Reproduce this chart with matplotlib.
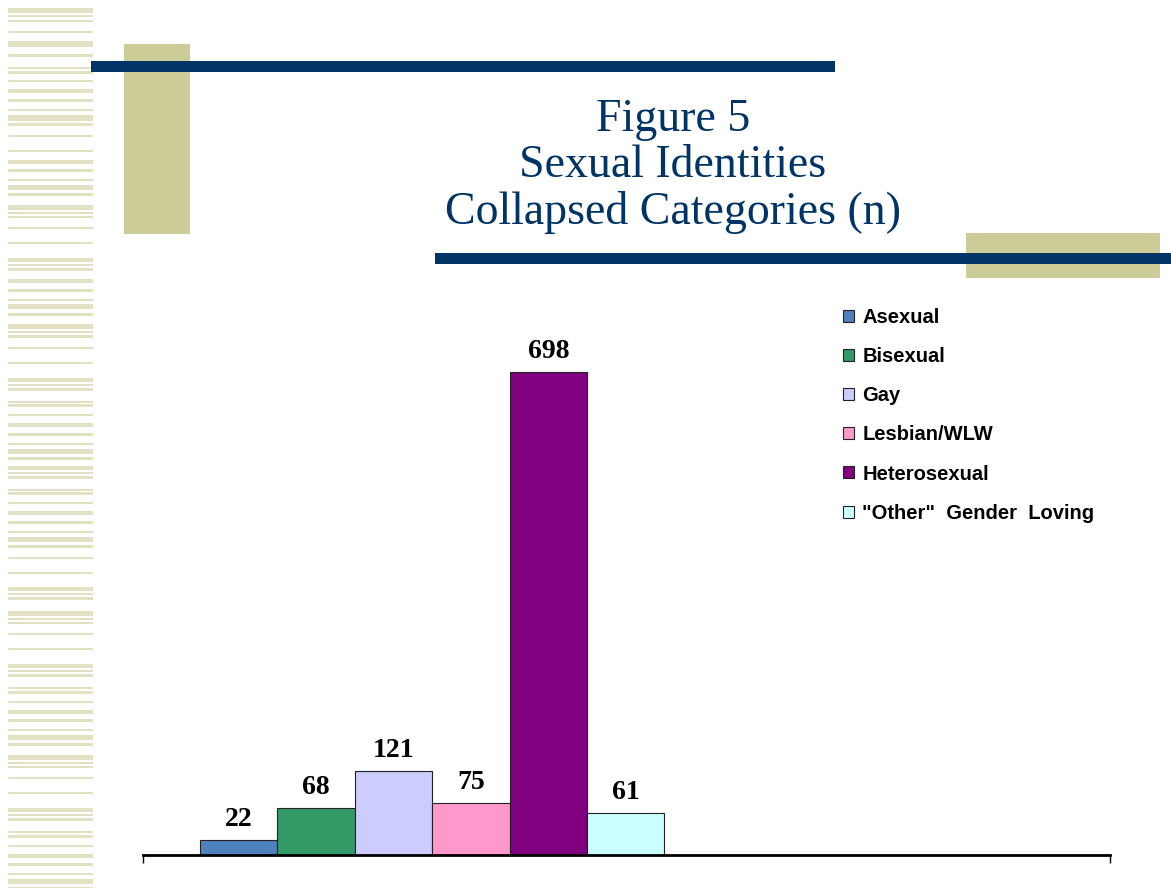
import numpy as np
import matplotlib
matplotlib.use("Agg")
import matplotlib.pyplot as plt
from matplotlib.patches import Rectangle

# data
categories = ["Asexual", "Bisexual", "Gay", "Lesbian/WLW", "Heterosexual", '"Other"  Gender  Loving']
counts = [22, 68, 121, 75, 698, 61]
colors = ["#4F81BD", "#339966", "#CCCCFF", "#FF99CC", "#800080", "#CCFFFF"]

title_lines = ["Figure 5", "Sexual Identities", "Collapsed Categories (n)"]

# decorative stripes on the left edge (top, bottom) in pixels
stripes = [(8, 13), (14.7, 16.7), (20, 22), (31, 33), (41, 47), (54, 57), (67, 69), (71, 74),
           (80, 82), (89, 93), (99, 102), (109, 111), (115, 121), (123, 126), (135, 137),
           (150, 152), (160, 164), (169, 172), (179, 181), (185, 190), (193, 196), (205, 210),
           (212, 214), (216, 218), (227, 229), (242, 244), (258, 262), (264, 266), (268, 271),
           (279, 283), (289, 292), (299, 301), (304, 309), (313, 316), (324, 329), (331, 333),
           (335, 338), (347, 349), (362, 364), (378, 382), (384, 386), (388, 391), (401, 403),
           (404, 407), (414, 416), (423, 427), (433, 436), (443, 445), (449, 454), (457, 460),
           (466, 470), (472, 474), (476, 479), (489, 491), (492, 495), (502, 504), (511, 515),
           (521, 524), (531, 533), (537, 542), (545, 548), (557, 559), (572, 574), (587, 591),
           (593, 595), (597, 600), (611, 616), (618, 620), (622, 624), (633, 635), (648, 650),
           (664, 668), (670, 672), (674, 677), (687, 689), (691, 694), (701, 703), (710, 714),
           (719, 722), (729, 731), (735, 740), (743, 746), (755, 760), (762, 764), (766, 768),
           (777, 779), (792, 794), (808, 812), (814, 816), (818, 821), (831, 833), (835, 838),
           (845, 847), (854, 858), (863, 866), (873, 875), (879, 884), (887, 889)]

W, H = 1171, 888
fig = plt.figure(figsize=(W / 100, H / 100), dpi=100)
fig.patch.set_facecolor("white")

# background layer in pixel coordinates
bg = fig.add_axes([0, 0, 1, 1])
bg.set_xlim(0, W)
bg.set_ylim(H, 0)
bg.axis("off")

for y0, y1 in stripes:
    bg.add_patch(Rectangle((8, y0), 85, y1 - y0, color="#E3E1C4", lw=0))

olive = "#CCCC99"
navy = "#003366"
bg.add_patch(Rectangle((124, 44), 66, 190, color=olive, lw=0))
bg.add_patch(Rectangle((91, 61), 744, 11, color=navy, lw=0))
bg.add_patch(Rectangle((966, 233), 194, 45, color=olive, lw=0))
bg.add_patch(Rectangle((435, 253), 736, 11, color=navy, lw=0))

# title (va=baseline anchors the last line)
fig.text(673 / W, 1 - 224 / H, "\n".join(title_lines), ha="center", va="baseline",
         family="Liberation Serif", fontsize=33, color=navy, linespacing=1.12,
         multialignment="center")

# chart
left, right, bottom, top = 143, 1110, 855, 300
ax = fig.add_axes([left / W, 1 - bottom / H, (right - left) / W, (bottom - top) / H])
ax.patch.set_alpha(0)
px_per_unit = 483 / 698.0
ax.set_ylim(0, (bottom - top) / px_per_unit)
bar_w = 77.4
ax.set_xlim((left - 200) / bar_w, (right - 200) / bar_w)

x = np.arange(len(counts))
bars = ax.bar(x, counts, width=1.0, align="edge", color=colors, edgecolor="#222222",
              linewidth=0.8)
for b, c in zip(bars, counts):
    ax.annotate(str(c), (b.get_x() + b.get_width() / 2, c), xytext=(0, 10),
                textcoords="offset points", ha="center", va="baseline",
                family="Liberation Serif", fontweight="bold", fontsize=20)

for s in ["top", "left", "right"]:
    ax.spines[s].set_visible(False)
ax.spines["bottom"].set_linewidth(2)
ax.set_xticks(list(ax.get_xlim()))
ax.set_xticklabels(["", ""])
ax.tick_params(axis="x", direction="out", length=6, width=1)
ax.set_yticks([])

fig.legend(handles=list(bars), labels=categories, loc="upper left",
           bbox_to_anchor=(843 / W, 1 - 308 / H), frameon=False,
           borderpad=0, borderaxespad=0, handlelength=0.55, handleheight=0.55,
           handletextpad=0.4, labelspacing=1.0,
           prop={"family": "Liberation Sans", "weight": "bold", "size": 14.5})

plt.savefig("out.png", dpi=100)
